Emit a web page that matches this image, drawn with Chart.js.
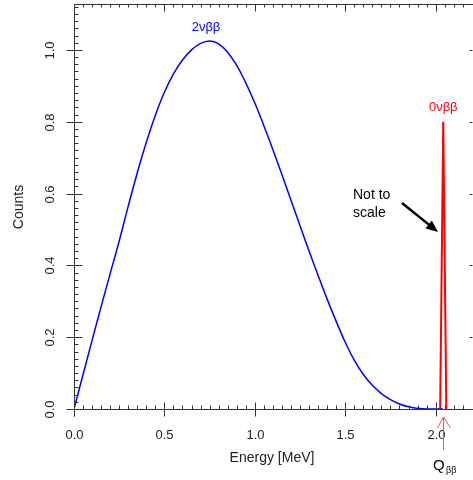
<!DOCTYPE html>
<html>
<head>
<meta charset="utf-8">
<script src="https://cdn.jsdelivr.net/npm/chart.js@4"></script>
<style>
  html, body { margin: 0; padding: 0; background: #fff; }
  canvas { display: block; }
</style>
</head>
<body>
<canvas id="chart" width="473" height="480"></canvas>
<script>
// 2vbb spectrum
const energy2v = [0.00, 0.05, 0.10, 0.15, 0.20, 0.25, 0.30, 0.35, 0.40, 0.45, 0.50, 0.55, 0.60, 0.65, 0.70, 0.75,
                  0.80, 0.85, 0.90, 0.95, 1.00, 1.05, 1.10, 1.15, 1.20, 1.25, 1.30, 1.35, 1.40, 1.45, 1.50, 1.55,
                  1.60, 1.65, 1.70, 1.75, 1.80, 1.85, 1.90, 1.95, 2.00, 2.04];
const counts2v = [0.000, 0.096, 0.191, 0.285, 0.377, 0.468, 0.565, 0.658, 0.743, 0.818, 0.882, 0.933, 0.972, 1.000, 1.018, 1.025,
                  1.017, 0.993, 0.957, 0.908, 0.852, 0.789, 0.722, 0.652, 0.581, 0.510, 0.440, 0.372, 0.306, 0.244, 0.186, 0.136,
                  0.096, 0.066, 0.043, 0.026, 0.014, 0.006, 0.002, 0.000, 0.000, 0.000];
// 0vbb peak
const energy0v = [2.025, 2.042, 2.059];
const counts0v = [0, 0.8, 0];

const xTicks = [0.0, 0.5, 1.0, 1.5, 2.0];
const yTicks = [0.0, 0.2, 0.4, 0.6, 0.8, 1.0];
const qbb = 2.042;

const FONT = '"Liberation Sans", Arial, sans-serif';

function toPoints(xs, ys) {
    return xs.map((x, i) => ({ x: x, y: ys[i] }));
}

const axesPlugin = {
    id: 'axesPlugin',
    afterDraw(chart) {
        const ctx = chart.ctx;
        const xs = chart.scales.x, ys = chart.scales.y;
        const a = chart.chartArea;
        const X = v => Math.round(xs.getPixelForValue(v)) + 0.5;
        const Y = v => Math.round(ys.getPixelForValue(v)) + 0.5;
        const left = Math.round(a.left) + 0.5, bottom = Math.round(a.bottom) + 0.5;
        const top = Math.round(a.top) - 0.5, right = Math.round(a.right) + 2.5;

        ctx.save();
        ctx.strokeStyle = '#333';
        ctx.lineWidth = 1;
        ctx.beginPath();
        // frame lines
        ctx.moveTo(left - 7, bottom); ctx.lineTo(chart.width, bottom);
        ctx.moveTo(left, top); ctx.lineTo(left, bottom + 7);
        ctx.moveTo(left, top); ctx.lineTo(chart.width, top);
        // minor ticks x (bottom up, top down)
        for (let v = 0; v <= 2.16; v += 0.05) {
            const px = X(v);
            ctx.moveTo(px, bottom); ctx.lineTo(px, bottom - 4);
            ctx.moveTo(px, top); ctx.lineTo(px, top + 3);
        }
        // minor ticks y
        for (let v = 0; v <= 1.121; v += 0.02) {
            const py = Y(v);
            ctx.moveTo(left, py); ctx.lineTo(left + 4, py);
        }
        // major ticks
        xTicks.forEach(v => {
            const px = X(v);
            ctx.moveTo(px, bottom - 7); ctx.lineTo(px, bottom + 7);
            ctx.moveTo(px, top); ctx.lineTo(px, top + 7);
        });
        yTicks.forEach(v => {
            const py = Y(v);
            ctx.moveTo(left - 8, py); ctx.lineTo(left + 8, py);
            ctx.moveTo(right, py); ctx.lineTo(right - 3, py);
        });
        ctx.stroke();

        // tick labels
        ctx.fillStyle = '#222';
        ctx.font = '13px ' + FONT;
        ctx.textAlign = 'center';
        ctx.textBaseline = 'middle';
        xTicks.forEach(v => ctx.fillText(v.toFixed(1), X(v), bottom + 26));
        yTicks.forEach(v => {
            ctx.save();
            ctx.translate(left - 24, Y(v));
            ctx.rotate(-Math.PI / 2);
            ctx.fillText(v.toFixed(1), 0, 0);
            ctx.restore();
        });

        // axis titles
        ctx.font = '14px ' + FONT;
        ctx.fillText('Energy [MeV]', (a.left + a.right) / 2, bottom + 49);
        ctx.save();
        ctx.translate(19, 207);
        ctx.rotate(-Math.PI / 2);
        ctx.fillText('Counts', 0, 0);
        ctx.restore();

        // peak labels
        ctx.font = '13px ' + FONT;
        ctx.fillStyle = '#0000ff';
        ctx.fillText('2\u03bd\u03b2\u03b2', xs.getPixelForValue(0.73), 27);
        ctx.fillStyle = '#ff0000';
        ctx.fillText('0\u03bd\u03b2\u03b2', xs.getPixelForValue(qbb), ys.getPixelForValue(0.8) - 14);

        // Not to scale
        ctx.fillStyle = '#000';
        ctx.font = '14px ' + FONT;
        ctx.textAlign = 'left';
        ctx.textBaseline = 'alphabetic';
        ctx.fillText('Not to', 353, 199);
        ctx.fillText('scale', 353, 217);

        // black arrow
        const ax0 = 402, ay0 = 203, ax1 = 438, ay1 = 232;
        const ang = Math.atan2(ay1 - ay0, ax1 - ax0);
        ctx.strokeStyle = '#000';
        ctx.lineWidth = 2.5;
        ctx.beginPath();
        ctx.moveTo(ax0, ay0);
        ctx.lineTo(ax1 - 9 * Math.cos(ang), ay1 - 9 * Math.sin(ang));
        ctx.stroke();
        ctx.beginPath();
        ctx.moveTo(ax1, ay1);
        ctx.lineTo(ax1 - 13 * Math.cos(ang - 0.4), ay1 - 13 * Math.sin(ang - 0.4));
        ctx.lineTo(ax1 - 13 * Math.cos(ang + 0.4), ay1 - 13 * Math.sin(ang + 0.4));
        ctx.closePath();
        ctx.fill();

        // Q_bb arrow
        const qx = Math.round(xs.getPixelForValue(qbb)) + 0.5;
        ctx.strokeStyle = '#ff5050';
        ctx.lineWidth = 1;
        ctx.beginPath();
        ctx.moveTo(qx, 450); ctx.lineTo(qx, 417);
        ctx.moveTo(qx - 6, 428); ctx.lineTo(qx, 417); ctx.lineTo(qx + 7, 428);
        ctx.stroke();

        ctx.fillStyle = '#000';
        ctx.font = '15px ' + FONT;
        ctx.fillText('Q', 433, 470);
        ctx.font = '9px ' + FONT;
        ctx.fillText('\u03b2\u03b2', 446, 473);
        ctx.restore();
    }
};

new Chart(document.getElementById('chart'), {
    type: 'line',
    data: {
        datasets: [
            {
                label: '2vbb',
                data: toPoints(energy2v, counts2v),
                borderColor: '#0000ff',
                borderWidth: 1.5,
                pointRadius: 0,
                tension: 0.4,
                fill: false
            },
            {
                label: '0vbb',
                data: toPoints(energy0v, counts0v),
                borderColor: '#ff0000',
                borderWidth: 2,
                pointRadius: 0,
                tension: 0,
                fill: false
            }
        ]
    },
    options: {
        responsive: false,
        animation: false,
        devicePixelRatio: 1,
        layout: { padding: { left: 74, right: 3, top: 5, bottom: 71 } },
        scales: {
            x: { type: 'linear', min: 0, max: 2.19, display: false },
            y: { type: 'linear', min: 0, max: 1.125, display: false }
        },
        plugins: {
            legend: { display: false },
            tooltip: { enabled: false }
        }
    },
    plugins: [axesPlugin]
});
</script>
</body>
</html>
